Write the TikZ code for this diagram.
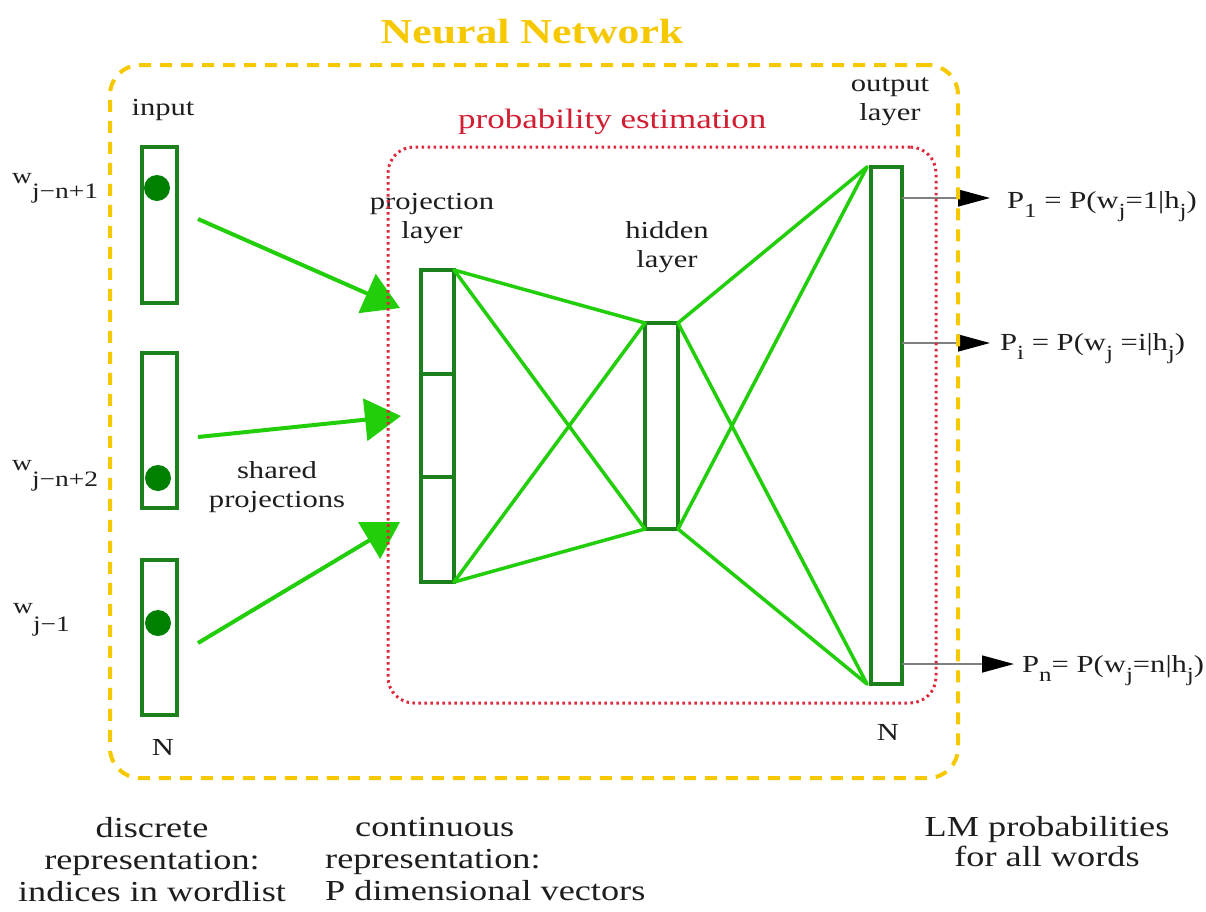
\documentclass[tikz,border=0pt]{standalone}
\usepackage{fontspec}
\setmainfont{Liberation Serif}[FakeStretch=1.25]
\usetikzlibrary{arrows.meta}
\definecolor{yel}{RGB}{246,200,0}
\definecolor{redf}{RGB}{222,40,60}
\definecolor{redt}{RGB}{210,30,50}
\definecolor{lgreen}{RGB}{34,206,10}
\definecolor{bgreen}{RGB}{28,128,28}
\definecolor{dgreen}{RGB}{0,128,0}
\definecolor{txt}{RGB}{30,30,30}
\newcommand\lo[1]{\raisebox{-0.38em}{\fontsize{20}{20}\selectfont #1}}
\tikzset{
  lbl/.style={font=\fontsize{24.5}{29}\selectfont, inner sep=0pt, text=txt, align=center},
  wlbl/.style={font=\fontsize{22}{22}\selectfont, inner sep=0pt, text=txt, anchor=base west},
  plbl/.style={font=\fontsize{24.5}{29}\selectfont, inner sep=0pt, text=txt, anchor=base west},
  btm/.style={font=\fontsize{29}{32}\selectfont, inner sep=0pt, text=txt},
  layerbox/.style={draw=bgreen, line width=4pt, fill=white, inner sep=0pt, outer sep=0pt, minimum width=33pt},
  dotn/.style={circle, fill=dgreen, inner sep=0pt, minimum size=26pt},
  conn/.style={draw=lgreen, line width=3.5pt, line cap=round},
  bigarrow/.style={draw=lgreen, line width=4pt, -{Triangle[length=36pt,width=42pt]}},
  outarrow/.style={draw=gray, line width=1.5pt, -{Triangle[length=32pt,width=17pt,color=black]}},
  yframe/.style={draw=yel, line width=4pt, dash pattern=on 12pt off 9pt, rounded corners=30pt, inner sep=0pt},
  rframe/.style={draw=redf, line width=3pt, dash pattern=on 2.5pt off 3.5pt, rounded corners=26pt, inner sep=0pt},
}
\begin{document}
\begin{tikzpicture}[x=1pt,y=-1pt]
\useasboundingbox[fill=white] (0,0) rectangle (1206,911);

% title and group labels
\node[font=\fontsize{35}{35}\selectfont\bfseries, text=yel, inner sep=0pt, anchor=base] (title) at (532,43) {Neural Network};
\node[font=\fontsize{28}{28}\selectfont, text=redt, inner sep=0pt, anchor=base west] (prob) at (458,128) {probability estimation};

% input layer
\node[lbl, anchor=base] (inlbl) at (163,115) {input};
\node[layerbox, minimum width=35pt, minimum height=156pt] (in1) at (159.5,225) {};
\node[layerbox, minimum width=35pt, minimum height=155pt] (in2) at (159.5,430.5) {};
\node[layerbox, minimum width=35pt, minimum height=155pt] (in3) at (159.5,637.5) {};
\node[dotn] (d1) at (157,188) {};
\node[dotn] (d2) at (158,478) {};
\node[dotn] (d3) at (158,623) {};
\node[lbl, anchor=base] (nin) at (163,755) {N};

\node[wlbl] (w1) at (12,183) {w\raisebox{-15pt}{j−n+1}};
\node[wlbl] (w2) at (12,470) {w\raisebox{-16pt}{j−n+2}};
\node[wlbl] (w3) at (13,613) {w\raisebox{-18pt}{j−1}};

\node[lbl, anchor=north] (shared) at (277,461) {shared\\projections};

% projection layer
\node[lbl, anchor=north] (projlbl) at (432,193) {projection\\layer};
\node[layerbox, minimum height=104pt] (p1) at (437.5,322) {};
\node[layerbox, minimum height=103pt] (p2) at (437.5,425.5) {};
\node[layerbox, minimum height=105pt] (p3) at (437.5,529.5) {};

% hidden layer
\node[lbl, anchor=north] (hidlbl) at (667,221) {hidden\\layer};
\node[layerbox, minimum height=206pt] (hid) at (661.5,426) {};

% output layer
\node[lbl, anchor=north] (outlbl) at (890,78) {output\\layer};
\node[layerbox, minimum width=31pt, minimum height=517pt] (out) at (886.5,425.5) {};
\node[lbl, anchor=base] (nout) at (888,740) {N};

% connections
\draw[conn] (p1.north east) -- (hid.north west);
\draw[conn] (p1.north east) -- (hid.south west);
\draw[conn] (p3.south east) -- (hid.north west);
\draw[conn] (p3.south east) -- (hid.south west);
\draw[conn] (hid.north east) -- ([xshift=-4pt]out.north west);
\draw[conn] (hid.north east) -- ([xshift=-4pt]out.south west);
\draw[conn] (hid.south east) -- ([xshift=-4pt]out.north west);
\draw[conn] (hid.south east) -- ([xshift=-4pt]out.south west);

% shared projection arrows
\coordinate (s1) at (198,219);
\coordinate (e1) at (400,308);
\coordinate (s2) at (198,437);
\coordinate (e2) at (401,416);
\coordinate (s3) at (198,643);
\coordinate (e3) at (400,522);
\draw[bigarrow] (s1) -- (e1);
\draw[bigarrow] (s2) -- (e2);
\draw[bigarrow] (s3) -- (e3);

% output probabilities
\coordinate (o1) at (990,198);
\coordinate (o2) at (990,343);
\coordinate (o3) at (1014,664);
\draw[outarrow] (o1 -| out.east) -- (o1);
\draw[outarrow] (o2 -| out.east) -- (o2);
\draw[outarrow] (o3 -| out.east) -- (o3);
\node[plbl] (P1) at (1007,208) {P\lo{1} = P(w\lo{j}=1|h\lo{j})};
\node[plbl] (Pi) at (1000,350) {P\lo{i} = P(w\lo{j} =i|h\lo{j})};
\node[plbl] (Pn) at (1022,672) {P\lo{n}= P(w\lo{j}=n|h\lo{j})};

% bottom captions
\node[btm, align=center, anchor=north] (disc) at (152,817) {discrete\\representation:\\indices in wordlist};
\node[btm, align=left, anchor=north west] (cont) at (325,817) {\hspace*{30pt}continuous\\representation:\\P dimensional vectors};
\node[btm, align=center, anchor=north, font=\fontsize{29}{30}\selectfont] (lm) at (1047,816) {LM probabilities\\for all words};

% frames
\node[rframe, minimum width=548pt, minimum height=556pt] (pe) at (662,425) {};
\node[yframe, minimum width=848pt, minimum height=713pt] (nn) at (534,421.5) {};
\end{tikzpicture}
\end{document}
